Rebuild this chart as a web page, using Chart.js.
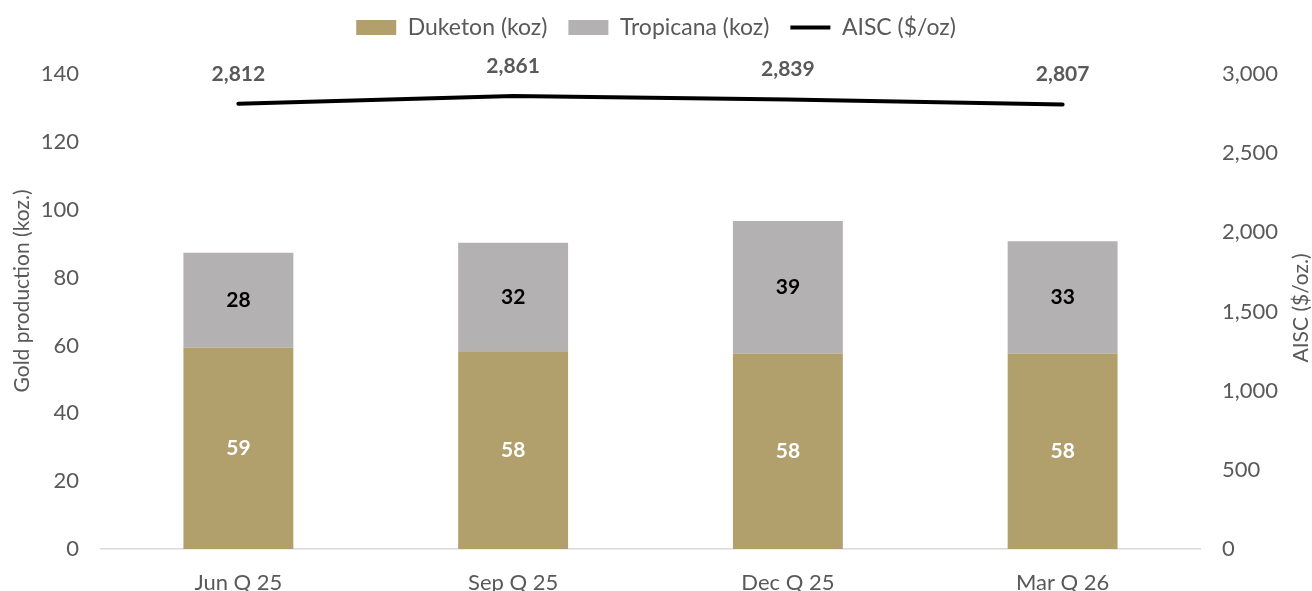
<!DOCTYPE html>
<html>
<head>
<meta charset="utf-8">
<script src="https://cdn.jsdelivr.net/npm/chart.js@4.4.1/dist/chart.umd.min.js"></script>
<style>
  html, body { margin: 0; padding: 0; background: #fff; }
  #wrap { width: 1312px; height: 591px; }
</style>
</head>
<body>
<div id="wrap"><canvas id="chart"></canvas></div>
<script>
const quarters = ["Jun Q 25", "Sep Q 25", "Dec Q 25", "Mar Q 26"];
const duketon = [59.3, 58.3, 57.6, 57.6];
const tropicana = [28.0, 32.0, 39.1, 33.1];
const aisc = [2812, 2861, 2839, 2807];

const FONT = "Lato";
const GREY_TEXT = "#595959";

// leave more room under the legend, like the original
const legendGap = {
  id: "legendGap",
  beforeLayout(chart) {
    const legend = chart.legend;
    if (!legend || legend._gapPatched) return;
    const fit = legend.fit;
    legend.fit = function () {
      fit.call(this);
      this.height += 25;
    };
    legend._gapPatched = true;
  },
};

// bar values, line values and axis titles drawn on canvas
const labelsPlugin = {
  id: "labelsPlugin",
  afterDatasetsDraw(chart) {
    const ctx = chart.ctx;
    ctx.save();
    ctx.textAlign = "center";
    ctx.textBaseline = "middle";
    ctx.font = `bold 21px ${FONT}`;
    chart.data.datasets.forEach((ds, i) => {
      const meta = chart.getDatasetMeta(i);
      meta.data.forEach((el, j) => {
        const v = ds.data[j];
        if (ds.type === "line") {
          ctx.fillStyle = GREY_TEXT;
          ctx.fillText(v.toLocaleString("en-US"), el.x, el.y - 30);
        } else {
          const p = el.getProps(["x", "y", "base"], true);
          ctx.fillStyle = i === 0 ? "#ffffff" : "#000000";
          ctx.fillText(Math.round(v), p.x, (p.y + p.base) / 2);
        }
      });
    });

    ctx.font = `21px ${FONT}`;
    ctx.fillStyle = GREY_TEXT;
    ctx.translate(22, 291);
    ctx.rotate(-Math.PI / 2);
    ctx.fillText("Gold production (koz.)", 0, 0);
    ctx.restore();

    ctx.save();
    ctx.font = `21px ${FONT}`;
    ctx.fillStyle = GREY_TEXT;
    ctx.textAlign = "center";
    ctx.textBaseline = "middle";
    ctx.translate(1301, 308);
    ctx.rotate(-Math.PI / 2);
    ctx.fillText("AISC ($/oz.)", 0, 0);
    ctx.restore();
  },
};

document.addEventListener("DOMContentLoaded", () => {
  new Chart(document.getElementById("chart"), {
    data: {
      labels: quarters,
      datasets: [
        {
          type: "bar",
          label: "Duketon (koz)",
          data: duketon,
          backgroundColor: "#b19f6c",
          stack: "gold",
          yAxisID: "y",
          order: 1,
          pointStyle: "rect",
        },
        {
          type: "bar",
          label: "Tropicana (koz)",
          data: tropicana,
          backgroundColor: "#b3b1b2",
          stack: "gold",
          yAxisID: "y",
          order: 1,
          pointStyle: "rect",
        },
        {
          type: "line",
          label: "AISC ($/oz)",
          data: aisc,
          borderColor: "#000000",
          backgroundColor: "#000000",
          borderWidth: 4,
          borderCapStyle: "round",
          pointRadius: 0,
          pointStyle: "line",
          yAxisID: "y1",
          order: 0,
        },
      ],
    },
    options: {
      responsive: true,
      maintainAspectRatio: false,
      animation: false,
      layout: { padding: { top: -5 } },
      datasets: {
        bar: { categoryPercentage: 1, barPercentage: 0.4 },
      },
      plugins: {
        tooltip: { enabled: false },
        legend: {
          position: "top",
          labels: {
            usePointStyle: true,
            pointStyleWidth: 40,
            boxHeight: 15,
            padding: 21,
            color: GREY_TEXT,
            font: { family: FONT, size: 23 },
            sort: (a, b) => a.datasetIndex - b.datasetIndex,
          },
        },
      },
      scales: {
        x: {
          stacked: true,
          grid: { display: false },
          border: { display: true, color: "#d9d9d9", width: 1.5 },
          ticks: { color: GREY_TEXT, font: { family: FONT, size: 22 }, padding: 13, maxRotation: 0 },
          afterFit: (s) => { s.height = 42; },
        },
        y: {
          stacked: true,
          position: "left",
          min: 0,
          max: 140,
          grid: { display: false, drawTicks: false },
          border: { display: false },
          ticks: { stepSize: 20, color: GREY_TEXT, font: { family: FONT, size: 22 }, padding: 22 },
          afterFit: (s) => { s.width = 101; },
        },
        y1: {
          position: "right",
          min: 0,
          max: 3000,
          grid: { display: false, drawTicks: false },
          border: { display: false },
          ticks: {
            stepSize: 500,
            color: GREY_TEXT,
            font: { family: FONT, size: 22 },
            padding: 22,
            callback: (v) => v.toLocaleString("en-US"),
          },
          afterFit: (s) => { s.width = 112; },
        },
      },
    },
    plugins: [legendGap, labelsPlugin],
  });
});
</script>
</body>
</html>
